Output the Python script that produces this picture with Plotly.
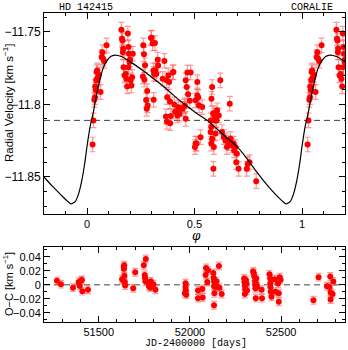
import plotly.graph_objects as go

# ---------------- data ----------------
# Phase-folded radial velocities (phase, km/s)
phase = [0.026, 0.030, 0.034, 0.037, 0.038, 0.041, 0.043, 0.045, 0.047, 0.048, 0.052, 0.055,
         0.063, 0.068, 0.071, 0.075, 0.080, 0.091,
         0.160, 0.163, 0.165, 0.167, 0.168, 0.170, 0.175, 0.180, 0.183, 0.187, 0.190, 0.192,
         0.193, 0.195, 0.198, 0.200, 0.203, 0.206, 0.210, 0.213,
         0.260, 0.262, 0.265, 0.267, 0.270, 0.275, 0.278, 0.280, 0.282, 0.298, 0.300, 0.305,
         0.309, 0.310, 0.312, 0.316, 0.318, 0.322, 0.329, 0.331,
         0.352, 0.360, 0.367, 0.370, 0.372, 0.373, 0.378, 0.382, 0.386, 0.387, 0.390, 0.398,
         0.402, 0.406, 0.410, 0.421, 0.425, 0.429, 0.436, 0.444, 0.452, 0.455, 0.459, 0.459,
         0.464, 0.467, 0.470, 0.478, 0.482,
         0.502, 0.505, 0.505, 0.510, 0.513, 0.513, 0.517, 0.521, 0.528, 0.536,
         0.575, 0.575, 0.578, 0.578, 0.579, 0.582, 0.582, 0.587, 0.588, 0.590, 0.592, 0.595,
         0.598, 0.602, 0.605, 0.613, 0.620, 0.628, 0.636, 0.644, 0.651, 0.659, 0.664, 0.667,
         0.674, 0.682, 0.685, 0.690, 0.694, 0.697, 0.705, 0.743, 0.748, 0.756, 0.787]
rv = [-11.8276, -11.8110, -11.7968, -11.7950, -11.7876, -11.7900, -11.7834, -11.7777, -11.7766, -11.7820, -11.7812, -11.7795,
      -11.7915, -11.7674, -11.7640, -11.7685, -11.7700, -11.7593,
      -11.7485, -11.7547, -11.7559, -11.7640, -11.7616, -11.7743, -11.7800, -11.7790, -11.7823, -11.7876, -11.7512, -11.7743,
      -11.7605, -11.7650, -11.7708, -11.7690, -11.7834, -11.7869, -11.7812, -11.7650,
      -11.7807, -11.7593, -11.7655, -11.7830, -11.7730, -11.7970, -11.8030, -11.7908, -11.8007, -11.7543, -11.7540, -11.7580,
      -11.7766, -11.7968, -11.7790, -11.7577, -11.7766, -11.7790, -11.7692, -11.7731,
      -11.7823, -11.7700, -11.8083, -11.7834, -11.8120, -11.7950, -11.7800, -11.7846, -11.7980, -11.8129, -11.8080, -11.7780,
      -11.7777, -11.8000, -11.8050, -11.8076, -11.8020, -11.8064, -11.8030, -11.8030, -11.8014, -11.8007, -11.7834, -11.8099,
      -11.7880, -11.7780, -11.7930, -11.7975, -11.7780,
      -11.8294, -11.7972, -11.8270, -11.8270, -11.7846, -11.7938, -11.7950, -11.8007, -11.8226, -11.8018,
      -11.8110, -11.8190, -11.8156, -11.8270, -11.7961, -11.8237, -11.7880, -11.8060, -11.8444, -11.8294, -11.8076, -11.8110,
      -11.8200, -11.8110, -11.8040, -11.8076, -11.7834, -11.8190, -11.8225, -11.8248, -11.8294, -11.8267, -11.7995, -11.8237,
      -11.8283, -11.8270, -11.8317, -11.8294, -11.8398, -11.8340, -11.8444, -11.8444, -11.8410, -11.8398, -11.8529]

# Orbital solution curve (phase, km/s)
curve_phase = [-0.20, -0.16, -0.12, -0.09, -0.074, -0.055, -0.04, -0.025, -0.01, 0.0, 0.015, 0.03,
               0.045, 0.06, 0.075, 0.09, 0.11, 0.13, 0.16, 0.20, 0.26, 0.33, 0.375, 0.42, 0.467,
               0.513, 0.56, 0.62, 0.70, 0.745, 0.79, 0.84, 0.88, 0.91, 0.926, 0.945, 0.96, 0.975,
               0.99, 1.0, 1.015, 1.03, 1.045, 1.06, 1.075, 1.09, 1.11, 1.13, 1.16, 1.20]
curve_rv = [-11.8500, -11.8565, -11.8625, -11.8668, -11.8685, -11.8670, -11.8620, -11.8530, -11.8400, -11.8290,
            -11.8150, -11.8050, -11.7930, -11.7830, -11.7750, -11.7705, -11.7670, -11.7660, -11.7670, -11.7705,
            -11.7766, -11.7846, -11.7900, -11.7960, -11.8014, -11.8064, -11.8110, -11.8190, -11.8294, -11.8375,
            -11.8467, -11.8560, -11.8625, -11.8668, -11.8685, -11.8670, -11.8620, -11.8530, -11.8400, -11.8290,
            -11.8150, -11.8050, -11.7930, -11.7830, -11.7750, -11.7705, -11.7670, -11.7660, -11.7670, -11.7705]

gamma = -11.811  # systemic velocity (dashed line)

# Residuals (JD-2400000, km/s)
jd = [51271, 51293, 51359, 51390, 51396, 51403, 51408, 51410, 51441,
      51628, 51635, 51637, 51638, 51640, 51641, 51643, 51645, 51689, 51700,
      51747, 51752, 51754, 51756, 51758, 51775, 51780, 51783, 51785, 51800, 51811,
      51972, 51976, 51976, 51978, 51980,
      52044, 52044, 52068, 52070, 52086, 52088, 52099, 52095,
      52128, 52130, 52132, 52132, 52134, 52132, 52140, 52143, 52146, 52159, 52162, 52174,
      52297, 52299, 52301, 52303, 52301, 52307, 52310, 52313,
      52346, 52350, 52353, 52357, 52357, 52359, 52361, 52364, 52362, 52368,
      52393, 52395, 52436, 52440, 52441, 52443, 52447, 52441,
      52464, 52468, 52483, 52487, 52487, 52492, 52497,
      52677, 52705, 52751, 52765, 52769, 52771, 52771, 52786, 52782]
oc = [0.0057, 0.0010, -0.0040, 0.0040, -0.0015, 0.0060, 0.0070, -0.0090, -0.0070,
      0.0080, 0.0060, 0.0260, 0.0230, 0.0280, 0.0130, 0.0040, -0.0010, -0.0050, 0.0180,
      0.0280, 0.0140, 0.0100, 0.0050, 0.0370, -0.0020, 0.0020, -0.0040, 0.0050, 0.0010, -0.0070,
      -0.0120, 0.0024, -0.0030, -0.0080, -0.0140,
      -0.0080, -0.0190, -0.0060, -0.0180, 0.0140, 0.0240, 0.0210, 0.0040,
      0.0170, 0.0100, 0.0050, -0.0020, -0.0120, -0.0290, 0.0000, -0.0030, 0.0050, 0.0270, -0.0040, -0.0130,
      0.0090, 0.0040, -0.0010, -0.0060, -0.0130, 0.0070, 0.0020, -0.0080,
      0.0190, 0.0170, 0.0120, 0.0050, 0.0000, -0.0050, -0.0190, 0.0090, 0.0020, -0.0030,
      -0.0070, -0.0190, 0.0150, 0.0090, -0.0030, -0.0100, -0.0170, 0.0020,
      0.0080, -0.0100, 0.0020, -0.0120, -0.0240, 0.0110, 0.0070,
      -0.0220, 0.0110, -0.0020, -0.0030, 0.0120, -0.0110, -0.0210, 0.0047, -0.0130]

rv_err = 0.005
oc_err = 0.0055

phase_ticks = [0, 0.5, 1]
phase_ticklabels = ["0", "0.5", "1"]
rv_ticks = [-11.85, -11.8, -11.75]
rv_ticklabels = ["\u221211.85", "\u221211.8", "\u221211.75"]
jd_ticks = [51500, 52000, 52500]
jd_ticklabels = ["51500", "52000", "52500"]
oc_ticks = [-0.04, -0.02, 0, 0.02, 0.04]
oc_ticklabels = ["\u22120.04", "\u22120.02", "0", "0.02", "0.04"]

# ---------------- figure ----------------
W, H = 348, 350
def px(x): return x / W
def py(y): return 1 - y / H

# repeat the early phases after phase 1
ph_all = phase + [p + 1 for p in phase if p + 1 <= 1.2]
rv_all = rv + [v for p, v in zip(phase, rv) if p + 1 <= 1.2]

RED = "#ff0000"
ERRC = "rgba(255,70,70,0.55)"

fig = go.Figure()
fig.add_trace(go.Scatter(x=[-0.2, 1.2], y=[gamma, gamma], mode="lines",
                         line=dict(color="#444444", width=1, dash="6px,4px"),
                         xaxis="x", yaxis="y", hoverinfo="skip"))
fig.add_trace(go.Scatter(x=ph_all, y=rv_all, mode="markers",
                         marker=dict(color=RED, size=6),
                         error_y=dict(type="constant", value=rv_err, color=ERRC, thickness=1.2, width=3),
                         xaxis="x", yaxis="y"))
fig.add_trace(go.Scatter(x=curve_phase, y=curve_rv, mode="lines",
                         line=dict(color="black", width=1.2, shape="spline", smoothing=0.6),
                         xaxis="x", yaxis="y"))

fig.add_trace(go.Scatter(x=[51200, 52850], y=[0, 0], mode="lines",
                         line=dict(color="#444444", width=1, dash="6px,4px"),
                         xaxis="x2", yaxis="y2", hoverinfo="skip"))
fig.add_trace(go.Scatter(x=jd, y=oc, mode="markers",
                         marker=dict(color=RED, size=6),
                         error_y=dict(type="constant", value=oc_err, color=ERRC, thickness=1.2, width=3),
                         xaxis="x2", yaxis="y2"))

axcommon = dict(showline=True, linecolor="black", linewidth=1, mirror="allticks",
                ticks="inside", ticklen=6, tickcolor="black", tickwidth=1,
                showgrid=False, zeroline=False)
tickfont = dict(family="Liberation Sans, Arial, sans-serif", size=11, color="black")

fig.update_layout(
    width=W, height=H, margin=dict(l=0, r=0, t=0, b=0),
    paper_bgcolor="white", plot_bgcolor="white", showlegend=False,
    xaxis=dict(domain=[px(44), px(345)], anchor="y", range=[-0.2, 1.2],
               tickvals=phase_ticks, ticktext=phase_ticklabels, tickfont=tickfont,
               minor=dict(ticks="inside", dtick=0.1, tick0=0, ticklen=3, tickcolor="black"),
               **axcommon),
    yaxis=dict(domain=[py(214), py(13)], anchor="x", range=[-11.8755, -11.737],
               tickvals=rv_ticks, ticktext=rv_ticklabels,
               tickfont=dict(family="Liberation Sans, Arial, sans-serif", size=12, color="black"),
               minor=dict(ticks="inside", dtick=0.01, tick0=-11.8, ticklen=3, tickcolor="black"),
               **axcommon),
    xaxis2=dict(domain=[px(44), px(345)], anchor="y2", range=[51200, 52850],
                tickvals=jd_ticks, ticktext=jd_ticklabels, tickfont=tickfont,
                minor=dict(ticks="inside", dtick=100, tick0=51500, ticklen=3, tickcolor="black"),
                **axcommon),
    yaxis2=dict(domain=[py(322), py(247)], anchor="x2", range=[-0.053, 0.054],
                tickvals=oc_ticks, ticktext=oc_ticklabels, tickfont=tickfont,
                minor=dict(ticks="inside", dtick=0.01, tick0=0, ticklen=3, tickcolor="black"),
                **axcommon),
)

mono = "Liberation Mono, DejaVu Sans Mono, monospace"
ann = [
    dict(x=px(86), y=py(7), text="HD 142415", font=dict(family=mono, size=10, color="black")),
    dict(x=px(312), y=py(7), text="CORALIE", font=dict(family=mono, size=10, color="black")),
    dict(x=px(196), y=py(236), text="<i>\u03c6</i>", font=dict(family="DejaVu Serif, serif", size=12, color="black")),
    dict(x=px(196), y=py(343), text="JD-2400000 [days]", font=dict(family=mono, size=10, color="black")),
    dict(x=px(8), y=py(103), text="Radial Velocity [km s<sup>\u22121</sup>]", textangle=-90,
         font=dict(family="Liberation Sans, Arial, sans-serif", size=11.5, color="black")),
    dict(x=px(8), y=py(284), text="O\u2212C [km s<sup>\u22121</sup>]", textangle=-90,
         font=dict(family="Liberation Sans, Arial, sans-serif", size=11, color="black")),
]
for a in ann:
    a.update(xref="paper", yref="paper", showarrow=False, xanchor="center", yanchor="middle")
    fig.add_annotation(**a)

fig.write_html("out.html")
